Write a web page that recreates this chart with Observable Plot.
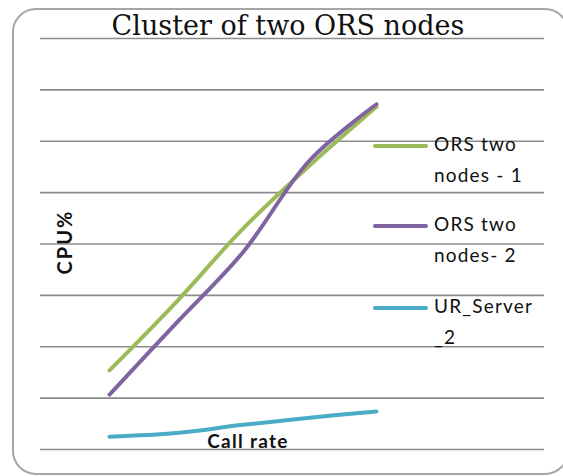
<!DOCTYPE html>
<html>
<head>
<meta charset="utf-8">
<script src="https://cdn.jsdelivr.net/npm/d3@7"></script>
<script src="https://cdn.jsdelivr.net/npm/@observablehq/plot@0.6"></script>
<style>
  html, body { margin: 0; padding: 0; background: #fff; overflow: hidden; }
  #wrap { position: relative; width: 563px; height: 476px; overflow: hidden; background: #fff; }
  #frame { position: absolute; box-sizing: border-box; left: 12px; width: 557px; top: 8px; height: 467px; border: 2px solid #a6a6a6; border-radius: 24px; }
  #chart { position: absolute; left: 0; top: 0; }
  .t { position: absolute; white-space: nowrap; color: #111; }
  #title { left: 0; width: 576px; text-align: center; top: 11px; font-family: "DejaVu Serif", "Liberation Serif", serif; font-size: 27px; line-height: 30px; }
  #ylab { left: 64px; top: 242px; font-family: Lato, "Open Sans", sans-serif; font-weight: bold; font-size: 20px; letter-spacing: 2px; transform: translate(-50%, -50%) rotate(-90deg); }
  #xlab { left: 248px; top: 429px; transform: translateX(-50%); font-family: Lato, "Open Sans", sans-serif; font-weight: bold; font-size: 19px; letter-spacing: 1.3px; }
  .leg { position: absolute; left: 373px; }
  .sw { position: absolute; left: 0; width: 55px; height: 4px; border-radius: 2px; }
  .lt { position: absolute; left: 61px; font-family: Lato, "Open Sans", sans-serif; font-size: 19px; letter-spacing: 1.2px; line-height: 31px; color: #111; white-space: nowrap; }
</style>
</head>
<body>
<div id="wrap">
  <div id="frame"></div>
  <div id="chart"></div>
  <div class="t" id="title"></div>
  <div class="t" id="ylab"></div>
  <div class="t" id="xlab"></div>
  <div id="legend"></div>
</div>
<script>
const categories = [1, 2, 3, 4, 5];
const seriesNames = ["ORS two nodes - 1", "ORS two nodes- 2", "UR_Server_2"];
const legendLines = [["ORS two", "nodes - 1"], ["ORS two", "nodes- 2"], ["UR_Server", "_2"]];
const orsNode1 = [15.4, 28.7, 43.0, 55.3, 66.7];
const orsNode2 = [10.7, 24.6, 38.4, 56.3, 67.2];
const urServer2 = [2.5, 3.2, 4.8, 6.2, 7.4];
const seriesColors = ["#9bbb59", "#8064a2", "#4bacc6"];
const yTicks = [0, 10, 20, 30, 40, 50, 60, 70, 80];
const titleText = "Cluster of two ORS nodes";
const yLabel = "CPU%";
const xLabel = "Call rate";

const allSeries = [orsNode1, orsNode2, urServer2];
const rows = [];
allSeries.forEach((vals, si) => {
  vals.forEach((v, i) => rows.push({series: seriesNames[si], x: categories[i], y: v}));
});

const chart = Plot.plot({
  width: 563,
  height: 476,
  marginLeft: 40,
  marginRight: 19,
  marginTop: 38,
  marginBottom: 27,
  x: {type: "linear", domain: [-0.034, 7.517], axis: null},
  y: {domain: [0, 80], axis: null},
  color: {domain: seriesNames, range: seriesColors},
  style: {background: "transparent", overflow: "visible"},
  marks: [
    Plot.ruleY(yTicks, {stroke: "#8c8c8c", strokeWidth: 1.6}),
    ...seriesNames.map(name => Plot.line(rows.filter(d => d.series === name), {
      x: "x", y: "y", stroke: "series", strokeWidth: 4, strokeLinecap: "round",
      curve: "catmull-rom"
    }))
  ]
});
document.getElementById("chart").appendChild(chart);

document.getElementById("title").textContent = titleText;
document.getElementById("ylab").textContent = yLabel;
document.getElementById("xlab").textContent = xLabel;

const legendTops = [146, 226, 308];
const legend = document.getElementById("legend");
legendLines.forEach((lines, i) => {
  const g = document.createElement("div");
  g.className = "leg";
  g.style.top = legendTops[i] + "px";
  const sw = document.createElement("div");
  sw.className = "sw";
  sw.style.background = seriesColors[i];
  sw.style.top = "-2px";
  g.appendChild(sw);
  const t = document.createElement("div");
  t.className = "lt";
  t.style.top = "-18px";
  t.innerHTML = lines.join("<br>");
  g.appendChild(t);
  legend.appendChild(g);
});
</script>
</body>
</html>
